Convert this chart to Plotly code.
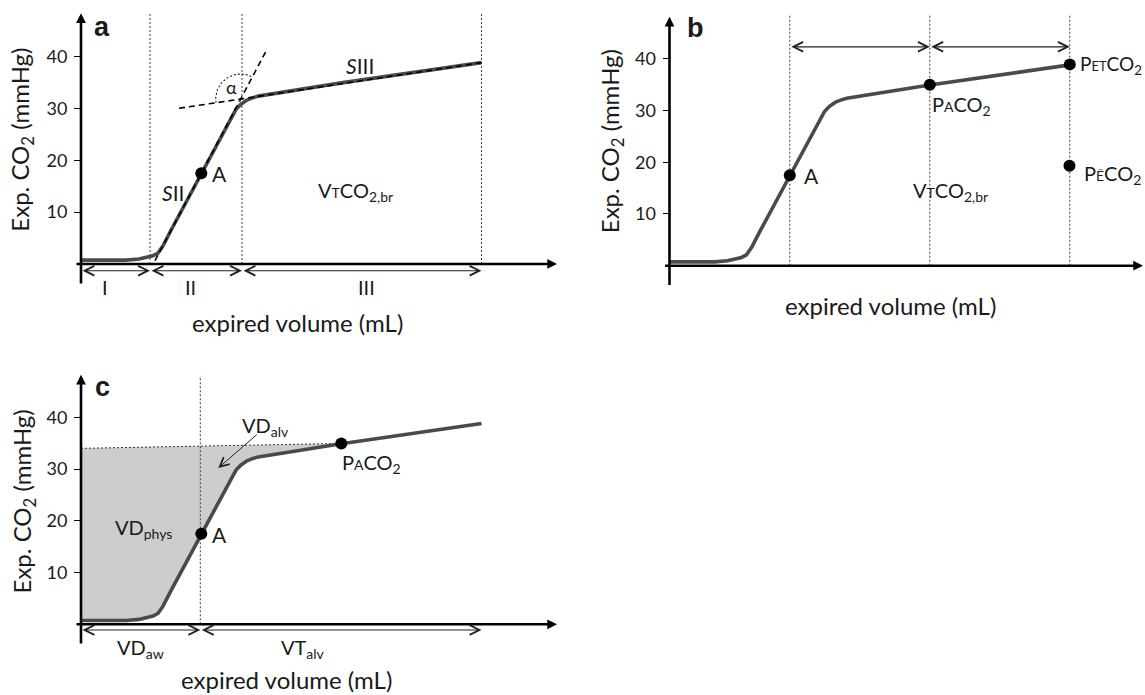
import numpy as np
import plotly.graph_objects as go

# ---------------- data ----------------
# expired volume (arbitrary mL units, 0 = start of expiration) and expired CO2 (mmHg)
volume = [0, 25, 45, 58, 66, 72, 77, 82, 90, 100, 110, 120.3, 130, 140, 150, 155, 160,
          166, 172, 177.3, 260.3, 400.5]
co2 = [0.75, 0.7, 0.75, 0.95, 1.25, 1.6, 2.1, 3.5, 6.5, 10.1, 13.8, 17.5, 21.0, 24.7,
       28.3, 29.8, 30.8, 31.6, 32.05, 32.35, 34.9, 38.8]

phase_bounds = [0, 69, 161, 400.5]          # phases I / II / III (panel a)
phase_labels = ["I", "II", "III"]
point_A = [120.3, 17.5]
point_PACO2 = [260.3, 34.95]
point_PETCO2 = [400.3, 38.9]
point_PECO2 = [400.0, 19.3]
sII_tangent_x = [74, 185]
sII_tangent_y = [0.65, 41.0]
sIII_tangent_x = [98, 400.5]
sIII_tangent_y = [30.0, 38.8]
alveolar_line_x = [0, 260.3]                # PACO2 reference line (panel c)
alveolar_line_y = [34.0, 34.95]
y_ticks = [10, 20, 30, 40]

FONT = "Lato"
BOLD_FONT = "Liberation Sans"
TXT = "#1a1a1a"
CURVE = "#4a4a4a"

W, H = 1145, 695
P = {
    "a": dict(xa="x", ya="y", xdom=[0, 572 / W], ydom=[350 / H, 1], xr=[-81, 491],
              yr=[-15.61, 50.87], ypos=81 / W, ppm=5.19),
    "b": dict(xa="x2", ya="y2", xdom=[572 / W, 1], ydom=[350 / H, 1], xr=[-97.5, 475.5],
              yr=[-15.32, 51.34], ypos=669.5 / W, ppm=5.175),
    "c": dict(xa="x3", ya="y3", xdom=[0, 572 / W], ydom=[0, 350 / H], xr=[-81, 491],
              yr=[-13.66, 53.97], ypos=81 / W, ppm=5.175),
}

fig = go.Figure()


def line(p, x, y, color="#222", width=1.0, dash=None, **kw):
    fig.add_trace(go.Scatter(x=x, y=y, mode="lines", xaxis=P[p]["xa"], yaxis=P[p]["ya"],
                             line=dict(color=color, width=width, dash=dash),
                             hoverinfo="skip", showlegend=False, **kw))


def dots(p, pts):
    fig.add_trace(go.Scatter(x=[q[0] for q in pts], y=[q[1] for q in pts], mode="markers",
                             xaxis=P[p]["xa"], yaxis=P[p]["ya"],
                             marker=dict(color="black", size=12), hoverinfo="skip",
                             showlegend=False))


def text(p, x, y, s, size=19, xanchor="center", yanchor="middle", family=FONT, **kw):
    fig.add_annotation(x=x, y=y, xref=P[p]["xa"], yref=P[p]["ya"], text=s, showarrow=False,
                       font=dict(family=family, size=size, color=TXT), xanchor=xanchor,
                       yanchor=yanchor, **kw)


def arrow(p, x0, y0, x1, y1, width=1.2, head=5, size=1.6, both=False, color="#222"):
    fig.add_annotation(x=x1, y=y1, ax=x0, ay=y0, xref=P[p]["xa"], yref=P[p]["ya"],
                       axref=P[p]["xa"], ayref=P[p]["ya"], text="", showarrow=True,
                       arrowhead=head, arrowsize=size, arrowwidth=width, arrowcolor=color,
                       arrowside="end+start" if both else "end", startarrowhead=head,
                       startarrowsize=size, standoff=0, startstandoff=0)


def axes(p, ybot, ytop, xend):
    arrow(p, -6, 0, xend, 0, width=2.6, head=2, size=0.75, color="black")
    arrow(p, 0, ybot, 0, ytop, width=2.6, head=2, size=0.75, color="black")


def font_sc(s, size=14):
    return f"<span style='font-size:{size}px'>{s}</span>"


# ---------------- panel c fill (drawn first) ----------------
n_fill = volume.index(260.3) + 1
fill_x = volume[:n_fill] + alveolar_line_x[::-1]
fill_y = co2[:n_fill] + alveolar_line_y[::-1]
fig.add_trace(go.Scatter(x=fill_x, y=fill_y, mode="lines", fill="toself", fillcolor="#cdcdcd",
                         line=dict(width=0), xaxis="x3", yaxis="y3", hoverinfo="skip",
                         showlegend=False))

# ---------------- panel a ----------------
for xb in phase_bounds[1:]:
    line("a", [xb, xb], [0, 48.2], width=0.9, dash="2px,2px")
line("a", volume, co2, color=CURVE, width=3.6)
line("a", sII_tangent_x, sII_tangent_y, color="black", width=1.6, dash="6px,4px")
line("a", sIII_tangent_x, sIII_tangent_y, color="black", width=1.6, dash="6px,4px")

# angle alpha arc between the two tangents
m2 = (sII_tangent_y[1] - sII_tangent_y[0]) / (sII_tangent_x[1] - sII_tangent_x[0])
m3 = (sIII_tangent_y[1] - sIII_tangent_y[0]) / (sIII_tangent_x[1] - sIII_tangent_x[0])
cx = ((sIII_tangent_y[0] - m3 * sIII_tangent_x[0]) - (sII_tangent_y[0] - m2 * sII_tangent_x[0])) / (m2 - m3)
cy = sIII_tangent_y[0] + m3 * (cx - sIII_tangent_x[0])
ppm = P["a"]["ppm"]
th = np.linspace(np.pi + np.arctan(m3 * ppm), np.arctan(m2 * ppm), 60)
r = 25
line("a", list(cx + r * np.cos(th)), list(cy + r * np.sin(th) / ppm), color="#222",
     width=1.1, dash="2px,2px")
dots("a", [point_A])

axes("a", -4.05, 48.3, 476)
for i, lab in enumerate(phase_labels):
    arrow("a", phase_bounds[i], -1.3, phase_bounds[i + 1], -1.3, both=True)
text("a", 24, -4.4, "I", size=20)
text("a", 109, -4.4, "II", size=20)
text("a", 285.7, -4.4, "III", size=20)
text("a", 20.7, 45.6, "<b>a</b>", size=27, family=BOLD_FONT)
text("a", 279, 38.2, "<i>S</i>III", size=21)
text("a", 92.3, 13.7, "<i>S</i>II", size=21)
text("a", 129, 17.5, "A", size=21, xanchor="left")
text("a", 150.7, 34.1, "α", size=18)
text("a", 274, 14.0, "V" + font_sc("T") + "CO<sub>2,br</sub>", size=20)
text("a", 216, -11.2, "expired volume (mL)", size=24)
text("a", -59.3, 23.9, "Exp. CO<sub>2</sub> (mmHg)", size=24, textangle=-90)

# ---------------- panel b ----------------
for xb in [point_A[0], point_PACO2[0], point_PETCO2[0]]:
    line("b", [xb, xb], [0, 48.6], width=0.9, dash="2px,2px")
line("b", volume, co2, color=CURVE, width=3.6)
dots("b", [point_A, point_PACO2, point_PETCO2, point_PECO2])
axes("b", -4.0, 48.1, 473.5)
arrow("b", point_A[0], 42.3, point_PACO2[0], 42.3, both=True)
arrow("b", point_PACO2[0], 42.3, point_PETCO2[0], 42.3, both=True)
text("b", 25.5, 45.9, "<b>b</b>", size=27, family=BOLD_FONT)
text("b", 132.2, 17.5, "A", size=21, xanchor="left")
text("b", 292.2, 31.0, "P" + font_sc("A") + "CO<sub>2</sub>", size=20)
text("b", 408.0, 38.7, "P" + font_sc("ET", 13) + "CO<sub>2</sub>", size=19, xanchor="left")
text("b", 412.5, 17.6, "P" + font_sc("Ē") + "CO<sub>2</sub>", size=20, xanchor="left")
text("b", 280.5, 14.3, "V" + font_sc("T") + "CO<sub>2,br</sub>", size=20)
text("b", 220.5, -7.6, "expired volume (mL)", size=24)
text("b", -57.8, 24.0, "Exp. CO<sub>2</sub> (mmHg)", size=24, textangle=-90)

# ---------------- panel c ----------------
line("c", alveolar_line_x, alveolar_line_y, width=0.9, dash="2px,2px")
line("c", [point_A[0] - 1, point_A[0] - 1], [0, 48.0], width=0.9, dash="2px,2px")
line("c", volume, co2, color=CURVE, width=3.6)
dots("c", [point_A, point_PACO2])
axes("c", -4.0, 48.2, 476)
arrow("c", 0, -1.1, point_A[0] - 1, -1.1, both=True)
arrow("c", point_A[0] - 1, -1.1, 400.5, -1.1, both=True)
arrow("c", 177.3, 36.9, 137.3, 30.2, width=1.0, head=5, size=1.8)
text("c", 21.3, 45.9, "<b>c</b>", size=27, family=BOLD_FONT)
text("c", 62.3, 18.6, "VD<sub>phys</sub>", size=20)
text("c", 184, 38.2, "VD<sub>alv</sub>", size=20)
text("c", 129, 17.3, "A", size=21, xanchor="left")
text("c", 290.7, 31.0, "P" + font_sc("A") + "CO<sub>2</sub>", size=20)
text("c", 59, -4.6, "VD<sub>aw</sub>", size=20)
text("c", 222.3, -4.6, "VT<sub>alv</sub>", size=20)
text("c", 205.7, -10.7, "expired volume (mL)", size=24)
text("c", -57.7, 23.8, "Exp. CO<sub>2</sub> (mmHg)", size=24, textangle=-90)

# ---------------- axes layout ----------------
lay = dict(width=W, height=H, margin=dict(l=0, r=0, t=0, b=0, pad=0), autosize=False,
           plot_bgcolor="white", paper_bgcolor="white", showlegend=False)
for k, p in P.items():
    xk = "xaxis" + p["xa"][1:]
    yk = "yaxis" + p["ya"][1:]
    lay[xk] = dict(domain=p["xdom"], range=p["xr"], visible=False, fixedrange=True,
                   anchor=p["ya"])
    lay[yk] = dict(domain=p["ydom"], range=p["yr"], anchor="free", position=p["ypos"],
                   tickvals=y_ticks, ticks="outside", ticklen=7, tickwidth=1.4,
                   tickcolor="black", showline=False, showgrid=False, zeroline=False,
                   ticklabelstandoff=3, fixedrange=True,
                   tickfont=dict(family=FONT, size=18, color=TXT))
fig.update_layout(**lay)

fig.write_html("out.html", config={"displayModeBar": False},
               post_script="document.body.style.margin='0px';")
